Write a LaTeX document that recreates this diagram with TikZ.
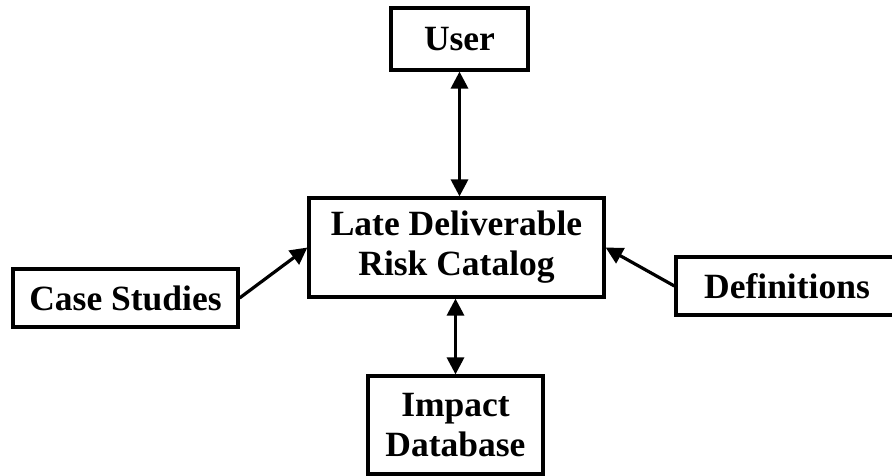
\documentclass[tikz,border=0pt]{standalone}
\usepackage{fontspec}
\setmainfont{Liberation Serif}
\usetikzlibrary{arrows.meta, positioning}

\begin{document}
\begin{tikzpicture}[
    x=1pt, y=-1pt,
    box/.style={rectangle, draw=black, line width=3.2pt, align=center, inner sep=0pt, font=\fontsize{35.5}{40}\selectfont\bfseries},
    arrow/.style={-{Triangle[length=17pt, width=17pt]}, line width=3.2pt},
    biarrow/.style={{Triangle[length=17pt, width=17pt]}-{Triangle[length=17pt, width=17pt]}, line width=3.2pt}
]
    \clip (0,0) rectangle (892,476);

    % Catalog
    \node[box, minimum width=295pt, minimum height=99pt] (cat) at (456.5, 247.5) {Late Deliverable\\Risk Catalog};

    % User
    \node[box, minimum width=137pt, minimum height=62pt] (user) at (459.5, 39) {User};

    % Sources
    \node[box, minimum width=225pt, minimum height=58pt] (cases) at (125.5, 298) {Case Studies};
    \node[box, minimum width=222pt, minimum height=58pt] (defs) at (787, 286) {Definitions};

    % Database
    \node[box, minimum width=175pt, minimum height=98pt] (db) at (455.5, 425) {Impact\\Database};

    % Arrows
    \draw[biarrow] (user.south) -- (user.south |- cat.north);
    \draw[biarrow] (db.north |- cat.south) -- (db.north);
    \draw[arrow] (cases.east) -- (cat.west);
    \draw[arrow] (defs.west) -- (cat.east);
\end{tikzpicture}
\end{document}
